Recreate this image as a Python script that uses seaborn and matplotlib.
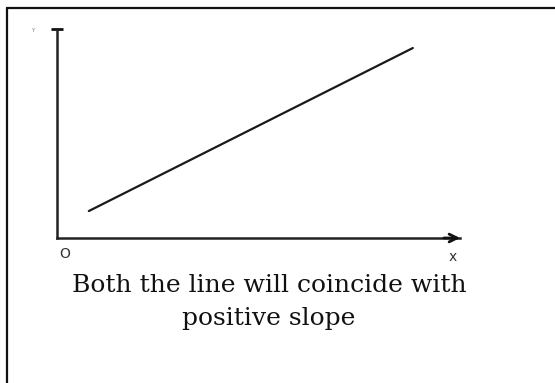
import matplotlib
matplotlib.use("Agg")
import matplotlib.pyplot as plt
from matplotlib.lines import Line2D
import pandas as pd
import seaborn as sns

# Straight line with positive slope, in the first quadrant
line_x = [0.79, 8.83]
line_y = [1.29, 9.09]
axis_labels = ["O", "x", "Y"]
caption = ["Both the line will coincide with", "positive slope"]

sns.set_style("white")
plt.rcParams["font.family"] = ["DejaVu Sans"]

W, H = 555, 383
fig = plt.figure(figsize=(W / 100, H / 100), dpi=100)

def fx(px):
    return px / W

def fy(py):
    return 1 - py / H

# Axes: origin at the lower-left corner, x axis ending in an arrow
ax = fig.add_axes([fx(57), fy(238), fx(460) - fx(57), fy(29) - fy(238)])
df = pd.DataFrame({"x": line_x, "y": line_y})
sns.lineplot(data=df, x="x", y="y", ax=ax, color="#1a1a1a", linewidth=1.6)
ax.set_xlim(0, 10)
ax.set_ylim(0, 10)
ax.set_xticks([])
ax.set_yticks([])
ax.set_xlabel("")
ax.set_ylabel("")
for side in ["top", "right"]:
    ax.spines[side].set_visible(False)
for side in ["left", "bottom"]:
    ax.spines[side].set_color("#222222")
    ax.spines[side].set_linewidth(1.8)
ax.annotate("", xy=(1.0, 0), xytext=(0.96, 0), xycoords="axes fraction",
            arrowprops=dict(arrowstyle="->", color="#111111", lw=2.0,
                            mutation_scale=14, shrinkA=0, shrinkB=0),
            annotation_clip=False)
ax.plot(0, 1, marker="_", color="#111111", markersize=8, mew=2,
        transform=ax.get_xaxis_transform(), clip_on=False)

fig.text(fx(65), fy(254), axis_labels[0], ha="center", va="center",
         fontsize=10, color="#333333")
fig.text(fx(453), fy(257), axis_labels[1], ha="center", va="center",
         fontsize=10, color="#333333")
fig.text(fx(33), fy(30), axis_labels[2], ha="center", va="center",
         fontsize=4, color="#777777")

# Caption below the graph
fig.text(fx(269), fy(285), caption[0], ha="center", va="center",
         fontsize=18, family=["DejaVu Serif"], color="#111111")
fig.text(fx(269), fy(318), caption[1], ha="center", va="center",
         fontsize=18, family=["DejaVu Serif"], color="#111111")

# Cell border: top and left edges
fig.add_artist(Line2D([fx(7), 1], [fy(8), fy(8)], color="#111111", linewidth=1.6))
fig.add_artist(Line2D([fx(7), fx(7)], [fy(8), 0], color="#111111", linewidth=1.6))

fig.savefig("out.png", dpi=100)
